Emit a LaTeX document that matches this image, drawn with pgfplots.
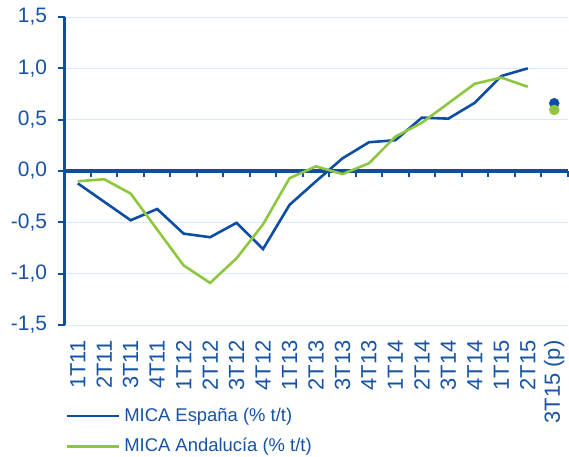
\documentclass[border=0pt]{standalone}
\usepackage{pgfplots}
\pgfplotsset{compat=1.18}
\usepackage{fontspec}
\setmainfont{Liberation Sans}
\definecolor{mblue}{RGB}{14,78,162}
\definecolor{mgreen}{RGB}{141,198,63}
\definecolor{mgrid}{RGB}{214,237,248}
\definecolor{mtext}{RGB}{22,82,166}
\pgfplotstableread{
x y
0 -0.12
1 -0.30
2 -0.48
3 -0.37
4 -0.61
5 -0.645
6 -0.505
7 -0.76
8 -0.33
9 -0.10
10 0.123
11 0.28
12 0.30
13 0.52
14 0.51
15 0.665
16 0.925
17 1.00
}\espana
\pgfplotstableread{
x y
0 -0.10
1 -0.08
2 -0.22
3 -0.57
4 -0.92
5 -1.09
6 -0.85
7 -0.52
8 -0.07
9 0.045
10 -0.03
11 0.075
12 0.335
13 0.47
14 0.66
15 0.85
16 0.91
17 0.82
}\andalucia
\begin{document}
\begin{tikzpicture}
\path[use as bounding box] (0,0) rectangle (569bp,457bp);
\begin{axis}[
  at={(64.5bp,132bp)}, anchor=south west,
  scale only axis, width=503bp, height=308bp,
  xmin=-0.5, xmax=18.5, ymin=-1.5, ymax=1.5,
  axis x line*=bottom,
  axis y line*=left,
  x axis line style={draw=none},
  y axis line style={draw=mblue, line width=3.2bp, -},
  xtick={0,...,18},
  xtick style={draw=none},
  xticklabels={1T11,2T11,3T11,4T11,1T12,2T12,3T12,4T12,1T13,2T13,3T13,4T13,1T14,2T14,3T14,4T14,1T15,2T15,3T15 (p)},
  xticklabel style={rotate=90, anchor=east, font=\fontsize{22}{25}\selectfont, text=mtext, xshift=-6bp},
  ytick={-1.5,-1,-0.5,0,0.5,1,1.5},
  ytick style={draw=mblue, line width=2bp},
  tick align=outside, major tick length=6bp,
  ymajorgrids, grid style={draw=mgrid, line width=1bp},
  yticklabel style={font=\fontsize{21}{24}\selectfont, text=mtext, xshift=-8bp},
  /pgf/number format/.cd, use comma, fixed, fixed zerofill, precision=1, assume math mode=true,
  /pgfplots/.cd,
  legend style={draw=none, fill=none, at={(0,0)}, anchor=north west, xshift=-2bp, yshift=-79bp,
    font=\fontsize{18.5}{22}\selectfont, text=mtext, row sep=10.5bp, column sep=3bp,
    nodes={inner sep=1bp, text height=14bp, text depth=4bp}},
  legend cell align=left,
  legend image code/.code={\draw[#1] (0bp,0bp) -- (52bp,0bp);},
  clip=false,
]
\draw[mblue, line width=3.2bp] (axis cs:-0.5,0) -- (axis cs:18.5,0);
\pgfplotsinvokeforeach{0.5,1.5,...,18.5}{\draw[mblue, line width=2bp] (axis cs:#1,0) -- ([yshift=-6bp]axis cs:#1,0);}
\addplot[mblue, line width=2.6bp] table {\espana};
\addlegendentry{MICA España (\% t/t)}
\addplot[mgreen, line width=2.6bp] table {\andalucia};
\addlegendentry{MICA Andalucía (\% t/t)}
\addplot[only marks, mark=*, mark size=5bp, mblue, forget plot] coordinates {(18,0.66)};
\addplot[only marks, mark=*, mark size=5bp, mgreen, forget plot] coordinates {(18,0.595)};
\end{axis}
\end{tikzpicture}
\end{document}
